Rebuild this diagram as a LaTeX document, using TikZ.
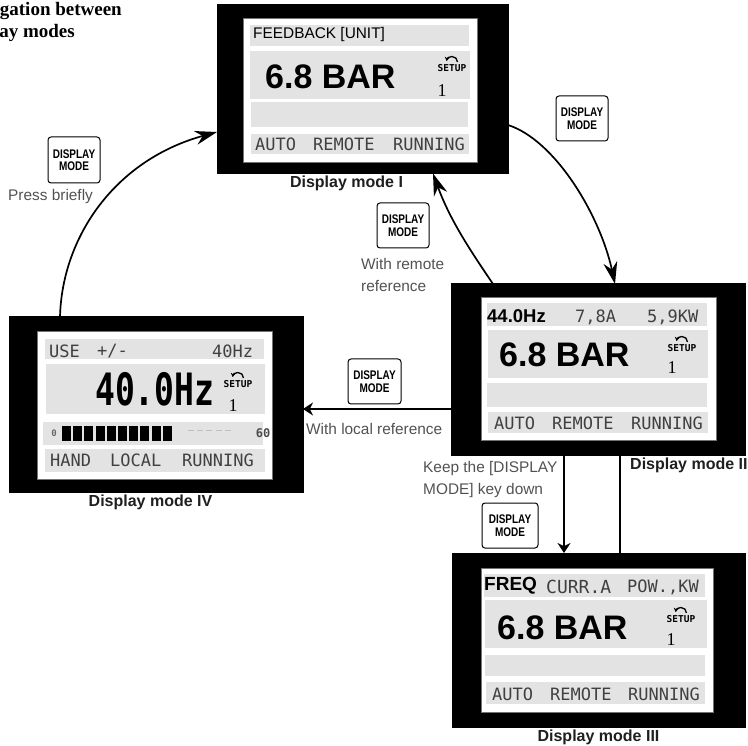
\documentclass[tikz,border=0pt]{standalone}
\usepackage{fontspec}
\usepackage{graphicx}
\setmainfont{Liberation Sans}
\newfontfamily\lcdfont{DejaVu Sans Mono}
\newfontfamily\titlefont{Liberation Serif}
\usetikzlibrary{arrows.meta,calc}
\tikzset{
  frame/.style={draw=black,fill=black,inner sep=0pt,outer sep=0pt,line width=0pt},
  panel/.style={draw=black!55,fill=white,line width=0.4pt},
  strip/.style={fill=black!11,draw=none},
  keybox/.style={draw=black,fill=white,rounded corners=3pt,line width=1pt,inner sep=0pt,outer sep=0pt,align=center,
     font=\fontsize{10}{12.5}\selectfont\bfseries},
  lbl/.style={inner sep=0pt,text=black!68,align=left,font=\fontsize{15.4}{22}\selectfont},
  captn/.style={inner sep=0pt,text=black!88,font=\fontsize{16}{18}\selectfont\bfseries},
  lcd/.style={inner sep=0pt,anchor=west,text=black!75,font=\fontsize{17}{17}\lcdfont\selectfont},
  big/.style={inner sep=0pt,anchor=west,font=\fontsize{34}{34}\selectfont\bfseries},
  ttl/.style={inner sep=0pt,anchor=base east,font=\fontsize{19}{19}\titlefont\selectfont\bfseries},
  conn/.style={line width=1.7pt,-{Stealth[length=22pt,width=14pt]}},
  thinconn/.style={line width=1.6pt,-{Stealth[length=10pt,width=13pt]}},
}
\newcommand{\stripat}[4]{\fill[strip] (#1,#2) rectangle (#3,#4);}
\newcommand{\keytxt}{\scalebox{1}[1.25]{DISPLAY}\\\scalebox{1}[1.25]{MODE}}
% arc bottom centre x,y ; node prefix ; position of the digit
\newcommand{\setupicon}[5]{%
  \draw[line width=1.3pt,-{Stealth[length=4pt,width=5pt]}] (#1+5.5,#2) arc[start angle=0,end angle=-170,radius=5.5];
  \node[inner sep=0pt,font=\fontsize{9.5}{10}\lcdfont\selectfont\bfseries] (#3s) at (#1,#2+6) {SETUP};
  \node[inner sep=0pt,font=\fontsize{18}{18}\titlefont\selectfont] (#3n) at (#4,#5) {1};
}
\begin{document}
\begin{tikzpicture}[x=1pt,y=-1pt]
\useasboundingbox (0,0) rectangle (748,746);
% frames
\node[frame,minimum width=291pt,minimum height=169pt] (d1) at (362.5,89) {};
\node[frame,minimum width=294pt,minimum height=175pt] (d4) at (156,404.5) {};
\node[frame,minimum width=294pt,minimum height=171pt] (d2) at (598,369.5) {};
\node[frame,minimum width=293pt,minimum height=174pt] (d3) at (598.5,640) {};
% panels
\draw[panel] (243,18) rectangle (477,162);
\draw[panel] (37,331) rectangle (272,479);
\draw[panel] (481,297) rectangle (716,440);
\draw[panel] (481,568) rectangle (713,712);
% display I
\stripat{250}{25}{469}{46}
\stripat{250}{51}{470}{99}
\stripat{251}{102}{468}{127}
\stripat{251}{134}{469}{154}
\node[lcd,text=black,font=\fontsize{15.4}{16}\selectfont] (t1a) at (253,35) {FEEDBACK [UNIT]};
\node[big] (t1b) at (265,77) {6.8 BAR};
\setupicon{452}{62}{i1}{442}{91}
\node[lcd] (t1c) at (255,144) {AUTO};
\node[lcd] (t1d) at (313,144) {REMOTE};
\node[lcd] (t1e) at (393,144) {RUNNING};
% display II
\stripat{487}{303}{707}{326}
\stripat{488}{330}{708}{378}
\stripat{487}{383}{707}{407}
\stripat{488}{412}{708}{433}
\node[lcd,text=black,font=\fontsize{18.5}{19}\selectfont\bfseries] (t2a) at (487,316) {44.0Hz};
\node[lcd] (t2b) at (575,317) {7,8A};
\node[lcd] (t2c) at (647,317) {5,9KW};
\node[big] (t2d) at (499,355) {6.8 BAR};
\setupicon{682}{342}{i2}{672}{368}
\node[lcd] (t2e) at (494,423) {AUTO};
\node[lcd] (t2f) at (552,423) {REMOTE};
\node[lcd] (t2g) at (631,423) {RUNNING};
% display III
\stripat{484}{574}{705}{597}
\stripat{485}{600}{707}{648}
\stripat{485}{655}{705}{676}
\stripat{486}{682}{705}{704}
\node[lcd,text=black,font=\fontsize{19}{19}\selectfont\bfseries] (t3a) at (484,586) {FREQ};
\node[lcd,font=\fontsize{18}{18}\lcdfont\selectfont] (t3b) at (546,587) {CURR.A};
\node[lcd] (t3c) at (627,587) {POW.,KW};
\node[big] (t3d) at (497,628) {6.8 BAR};
\setupicon{681}{613}{i3}{671}{640}
\node[lcd] (t3e) at (492,694) {AUTO};
\node[lcd] (t3f) at (550,694) {REMOTE};
\node[lcd] (t3g) at (628,694) {RUNNING};
% display IV
\stripat{45}{339}{264}{359}
\stripat{46}{364}{265}{414}
\stripat{43}{422}{263}{445}
\stripat{45}{449}{265}{472}
\node[lcd] (t4a) at (49,351) {USE};
\node[lcd] (t4g) at (97,351) {+/-};
\node[lcd] (t4b) at (212,351) {40Hz};
\node[lcd,text=black,font=\fontsize{33}{33}\lcdfont\selectfont\bfseries] (t4c) at (95,389) {\scalebox{1}[1.35]{40.0Hz}};
\setupicon{238}{378}{i4}{233}{406}
\node[inner sep=0pt,text=black!60,font=\fontsize{9}{9}\lcdfont\selectfont\bfseries] (t4d) at (54,433) {0};
\foreach \i in {0,...,9} {\fill (62+\i*11.2,426) rectangle +(9,15);}
\foreach \i in {0,...,4} {\fill[black!25] (188+\i*9.2,430.5) rectangle +(6,1);}
\node[inner sep=0pt,text=black!70,font=\fontsize{12}{12}\lcdfont\selectfont\bfseries] (t4e) at (263,433) {60};
\node[lcd] (t4f) at (50,460) {HAND};
\node[lcd] (t4h) at (110,460) {LOCAL};
\node[lcd] (t4i) at (182,460) {RUNNING};
% captions
\node[captn] (c1) at (346.5,183) {Display mode I};
\node[captn,anchor=west] (c2) at (630,465) {Display mode II};
\node[captn] (c3) at (598.5,737) {Display mode III};
\node[captn] (c4) at (150.5,502) {Display mode IV};
% title
\node[ttl] (ti1) at (122,16) {gation between};
\node[ttl] (ti2) at (75,38) {ay modes};
% keys
\node[keybox,minimum width=52pt,minimum height=46pt] (k1) at (74,160) {\keytxt};
\node[keybox,minimum width=52pt,minimum height=45pt] (k2) at (582,118.5) {\keytxt};
\node[keybox,minimum width=52pt,minimum height=45pt] (k3) at (403,225.5) {\keytxt};
\node[keybox,minimum width=53pt,minimum height=45pt] (k4) at (374.5,381.5) {\keytxt};
\node[keybox,minimum width=56pt,minimum height=45pt] (k5) at (510,525.5) {\keytxt};
% labels
\node[lbl,anchor=west] (l1) at (8,197) {Press briefly};
\node[lbl,anchor=west] (l3) at (361,275) {With remote\\reference};
\node[lbl,anchor=west] (l4) at (306,429) {With local reference};
\node[lbl,anchor=west] (l5) at (423,480) {Keep the [DISPLAY\\MODE] key down};
% connectors
\draw[conn] ([xshift=-96pt]d4.north) .. controls +(2,-80) and (115,160) .. ([yshift=-43pt]d1.west);
\draw[conn] ([yshift=-36pt]d1.east) .. controls (555,140) and (600,215) .. ([xshift=17pt]d2.north);
\draw[conn] ([xshift=-105pt]d2.north) .. controls (470,250) and (450,220) .. ([xshift=70.5pt]d1.south);
\draw[thinconn] ([yshift=-39.5pt]d2.west) -- ([yshift=-4.5pt]d4.east);
\draw[thinconn] ([xshift=-34pt]d2.south) -- ([xshift=-34.5pt]d3.north);
\draw[line width=2.2pt] ([xshift=22pt]d2.south) -- ([xshift=21.5pt]d3.north);
\end{tikzpicture}
\end{document}
